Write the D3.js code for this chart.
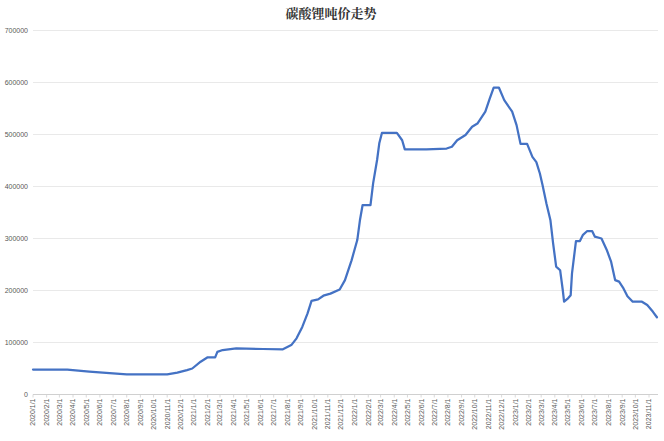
<!DOCTYPE html>
<html>
<head>
<meta charset="utf-8">
<script src="https://cdn.jsdelivr.net/npm/d3@7"></script>
<style>
  html, body { margin: 0; padding: 0; background: #fff; }
  svg { display: block; }
</style>
</head>
<body>
<svg id="chart" width="664" height="441"></svg>
<script>
const title = "碳酸锂吨价走势";
const dates = [
  "2020-01-01","2020-03-19","2020-05-08","2020-06-23","2020-08-01","2020-11-01","2020-11-24","2020-12-16","2020-12-28",
  "2021-01-16","2021-02-01","2021-02-18","2021-02-23","2021-03-07","2021-04-07","2021-06-07","2021-07-22","2021-08-10",
  "2021-08-22","2021-09-04","2021-09-16","2021-09-25","2021-10-10","2021-10-22","2021-11-07","2021-11-28","2021-12-10",
  "2021-12-25","2022-01-07","2022-01-13","2022-01-19","2022-02-06","2022-02-12","2022-02-21","2022-02-26","2022-03-04",
  "2022-04-07","2022-04-19","2022-04-25","2022-06-13","2022-07-29","2022-08-10","2022-08-22","2022-09-10","2022-09-25",
  "2022-10-07","2022-10-25","2022-11-04","2022-11-13","2022-11-25","2022-12-07","2022-12-25","2023-01-04","2023-01-13",
  "2023-01-28","2023-02-09","2023-02-18","2023-02-26","2023-03-04","2023-03-13","2023-03-22","2023-03-28","2023-04-04",
  "2023-04-13","2023-04-19","2023-04-22","2023-05-01","2023-05-07","2023-05-10","2023-05-19","2023-05-28","2023-06-04",
  "2023-06-13","2023-06-25","2023-07-01","2023-07-16","2023-07-28","2023-08-07","2023-08-16","2023-08-25","2023-09-04",
  "2023-09-13","2023-09-25","2023-10-16","2023-10-28","2023-11-10","2023-11-19"
];
const prices = [
  48000,48000,44000,41000,38500,38500,42000,47000,50000,
  63000,71500,71500,82000,85500,88800,87500,87000,95000,
  108000,130000,156000,180000,183000,190000,194000,202000,220000,
  258000,297000,335000,364000,364000,406000,451000,483000,503000,
  503000,489000,471500,471500,473000,476500,489000,499000,515000,
  521000,544000,569000,590000,590000,566000,544000,518000,482000,
  482000,457000,447000,425000,403000,367000,335000,291000,246000,
  239000,201000,178500,185000,191000,233000,295000,295000,307000,
  314000,314000,303500,300000,278000,255000,220000,217000,204000,
  189000,178500,178500,172000,159000,148500
];
const yTicks = [0,100000,200000,300000,400000,500000,600000,700000];
const xTickStart = "2020-01-01";
const xTickEnd = "2023-11-01";

(function () {
const parse = d3.utcParse("%Y-%m-%d");
const data = dates.map((d, i) => ({ date: parse(d), value: prices[i] }));

const svg = d3.select("#chart");
const mLeft = 33, mRight = 658, mTop = 30.5, mBottom = 394.5;

const x = d3.scaleUtc().domain([parse(xTickStart), parse(xTickEnd)]).range([33, 649]);
const y = d3.scaleLinear().domain([0, 700000]).range([mBottom, mTop]);

svg.append("text")
  .attr("x", 331).attr("y", 18)
  .attr("text-anchor", "middle")
  .attr("font-family", "'Noto Serif CJK SC','Noto Sans CJK SC',serif")
  .attr("font-weight", "bold")
  .attr("font-size", 13)
  .attr("fill", "#333")
  .text(title);

svg.append("g").selectAll("line")
  .data(yTicks.filter(v => v > 0))
  .join("line")
  .attr("x1", mLeft).attr("x2", mRight)
  .attr("y1", d => y(d)).attr("y2", d => y(d))
  .attr("stroke", "#e3e3e3").attr("stroke-width", 0.8);

svg.append("g").selectAll("text")
  .data(yTicks)
  .join("text")
  .attr("x", 28).attr("y", d => y(d))
  .attr("dy", "0.35em")
  .attr("text-anchor", "end")
  .attr("font-family", "'Liberation Sans', Arial, sans-serif")
  .attr("font-size", 7)
  .attr("fill", "#595959")
  .text(d => d);

svg.append("line")
  .attr("x1", mLeft).attr("x2", mRight)
  .attr("y1", mBottom).attr("y2", mBottom)
  .attr("stroke", "#d0d0d0").attr("stroke-width", 1);

const monthTicks = d3.utcMonth.range(parse(xTickStart), d3.utcMonth.offset(parse(xTickEnd), 1));
const fmt = d3.utcFormat("%Y/%-m/%-d");

svg.append("g").selectAll("line")
  .data(monthTicks)
  .join("line")
  .attr("x1", d => x(d)).attr("x2", d => x(d))
  .attr("y1", mBottom).attr("y2", mBottom + 3)
  .attr("stroke", "#d0d0d0").attr("stroke-width", 0.8);

svg.append("g").selectAll("text")
  .data(monthTicks)
  .join("text")
  .attr("transform", d => `translate(${x(d)},${mBottom + 4}) rotate(-90)`)
  .attr("dy", "0.35em")
  .attr("text-anchor", "end")
  .attr("font-family", "'Liberation Sans', Arial, sans-serif")
  .attr("font-size", 7)
  .attr("fill", "#595959")
  .text(d => fmt(d));

const line = d3.line().x(d => x(d.date)).y(d => y(d.value));
svg.append("path")
  .datum(data)
  .attr("d", line)
  .attr("fill", "none")
  .attr("stroke", "#4472C4")
  .attr("stroke-width", 2.25)
  .attr("stroke-linejoin", "round")
  .attr("stroke-linecap", "round");
})();
</script>
</body>
</html>
